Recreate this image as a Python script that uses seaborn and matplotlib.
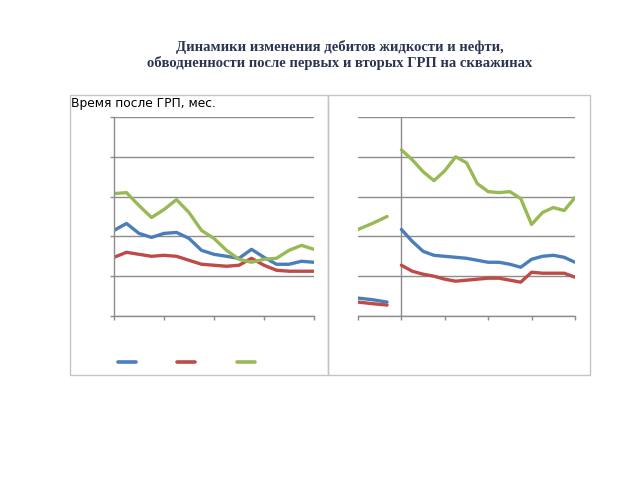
import matplotlib
matplotlib.use("Agg")
import matplotlib.pyplot as plt
from matplotlib.patches import Rectangle
from matplotlib.lines import Line2D
import seaborn as sns
import pandas as pd
import numpy as np

# ---- data ----
series_names = ["Дебит жидкости, т/сут", "Дебит нефти, т/сут", "Обводненность, %"]
colors = ["#4A7EBB", "#BE4B48", "#98B954"]

# left panel: after first fracturing, months 0..4 (quarter-month steps)
left_months = [0, 0.25, 0.5, 0.75, 1, 1.25, 1.5, 1.75, 2, 2.25, 2.5, 2.75, 3, 3.25, 3.5, 3.75, 4]
left_liquid = [21.5, 23.25, 20.75, 19.75, 20.75, 21, 19.5, 16.5, 15.5, 15, 14.5, 16.75, 14.75, 13, 13, 13.75, 13.5]
left_oil = [14.75, 16, 15.5, 15, 15.25, 15, 14, 13, 12.75, 12.5, 12.75, 14.5, 12.75, 11.5, 11.25, 11.25, 11.25]
left_water = [30.75, 31, 27.75, 24.75, 26.75, 29.25, 26, 21.5, 19.5, 16.5, 14.25, 13.5, 14.25, 14.5, 16.5, 17.75, 16.75]

# right panel: before second fracturing (negative months) and after it
pre_months = [-1, -0.67, -0.33]
pre_liquid = [4.5, 4.1, 3.5]
pre_oil = [3.5, 3.1, 2.75]
pre_water = [21.75, 23.25, 25]

right_months = [0, 0.25, 0.5, 0.75, 1, 1.25, 1.5, 1.75, 2, 2.25, 2.5, 2.75, 3, 3.25, 3.5, 3.75, 4]
right_liquid = [21.75, 18.75, 16.25, 15.25, 15, 14.75, 14.5, 14, 13.5, 13.5, 13, 12.25, 14.25, 15, 15.25, 14.75, 13.5]
right_oil = [12.75, 11.25, 10.5, 10, 9.25, 8.75, 9, 9.25, 9.5, 9.5, 9, 8.5, 11, 10.75, 10.75, 10.75, 9.75]
right_water = [41.75, 39.25, 36.25, 34, 36.5, 40, 38.5, 33.25, 31.25, 31, 31.25, 29.5, 23, 26, 27.25, 26.5, 29.75]

title_lines = ["Динамики изменения дебитов жидкости и нефти,",
               "обводненности после первых и вторых ГРП на скважинах"]
header_text = "Время после ГРП, мес."

def long_df(months, vals):
    rows = []
    for name, v in zip(series_names, vals):
        for m, y in zip(months, v):
            rows.append({"month": m, "value": y, "series": name})
    return pd.DataFrame(rows)

df_left = long_df(left_months, [left_liquid, left_oil, left_water])
df_pre = long_df(pre_months, [pre_liquid, pre_oil, pre_water])
df_right = long_df(right_months, [right_liquid, right_oil, right_water])

sns.set_style("white")
plt.rcParams["font.family"] = ["DejaVu Sans"]

fig = plt.figure(figsize=(6.4, 4.8), dpi=100)
W, H = 640.0, 480.0

# panel boxes
for (x0, y0, x1, y1) in [(70, 95, 328, 375), (328, 95, 590, 375)]:
    fig.patches.append(Rectangle((x0 / W, 1 - y1 / H), (x1 - x0) / W, (y1 - y0) / H,
                                 transform=fig.transFigure, fill=False,
                                 edgecolor="#c4c4c4", linewidth=1.0))

grid_col = "#8c8c8c"
palette = dict(zip(series_names, colors))

def style_axes(ax, xlim, xticks):
    ax.set_xlim(*xlim)
    ax.set_ylim(0, 50)
    ax.set_yticks([0, 10, 20, 30, 40, 50])
    ax.set_xticks(xticks)
    ax.set_xticklabels([])
    ax.set_yticklabels([])
    ax.set_xlabel("")
    ax.set_ylabel("")
    ax.grid(axis="y", color=grid_col, linewidth=1.0)
    ax.grid(axis="x", visible=False)
    ax.set_axisbelow(True)
    ax.patch.set_alpha(0)
    for s in ["top", "right"]:
        ax.spines[s].set_visible(False)
    ax.spines["bottom"].set_color(grid_col)
    ax.spines["bottom"].set_linewidth(1.0)

# left axes
axL = fig.add_axes([114 / W, 1 - 316 / H, 200 / W, 199 / H])
sns.lineplot(data=df_left, x="month", y="value", hue="series", palette=palette,
             ax=axL, legend=False, linewidth=2.4, estimator=None)
style_axes(axL, (0, 4), [0, 1, 2, 3, 4])
axL.spines["left"].set_color(grid_col)
axL.spines["left"].set_linewidth(1.0)
axL.tick_params(axis="both", which="both", length=3, color=grid_col, width=1,
                left=True, bottom=True, direction="out")

# right axes
axR = fig.add_axes([358 / W, 1 - 316 / H, 217 / W, 199 / H])
sns.lineplot(data=df_pre, x="month", y="value", hue="series", palette=palette,
             ax=axR, legend=False, linewidth=2.4, estimator=None)
sns.lineplot(data=df_right, x="month", y="value", hue="series", palette=palette,
             ax=axR, legend=False, linewidth=2.4, estimator=None)
style_axes(axR, (-1, 4), [-1, 0, 1, 2, 3, 4])
axR.spines["left"].set_visible(False)
axR.axvline(0, color=grid_col, linewidth=1.0, zorder=0.5)
axR.tick_params(axis="x", length=3, color=grid_col, width=1, bottom=True, direction="out")
axR.tick_params(axis="y", length=0, left=False)

# legend (line samples only, labels not visible in the reference)
handles = [Line2D([], [], color=c, linewidth=2.6) for c in colors]
fig.legend(handles, ["", "", ""], ncol=3, loc="center left",
           bbox_to_anchor=(105 / W, 1 - 363 / H), frameon=False,
           handlelength=1.3, columnspacing=3.0, handletextpad=0.0, fontsize=10)

# header text in the left panel
fig.text(71 / W, 1 - 103 / H, header_text, fontsize=8.8, color="black",
         family=["DejaVu Sans"], va="center", ha="left")

# title
fig.text(340 / W, 1 - 47 / H, title_lines[0], ha="center", va="center",
         fontsize=10.5, fontweight="bold", color="#2b3450", family=["Liberation Serif"])
fig.text(340 / W, 1 - 63 / H, title_lines[1], ha="center", va="center",
         fontsize=10.5, fontweight="bold", color="#2b3450", family=["Liberation Serif"])

fig.savefig("out.png", dpi=100)
